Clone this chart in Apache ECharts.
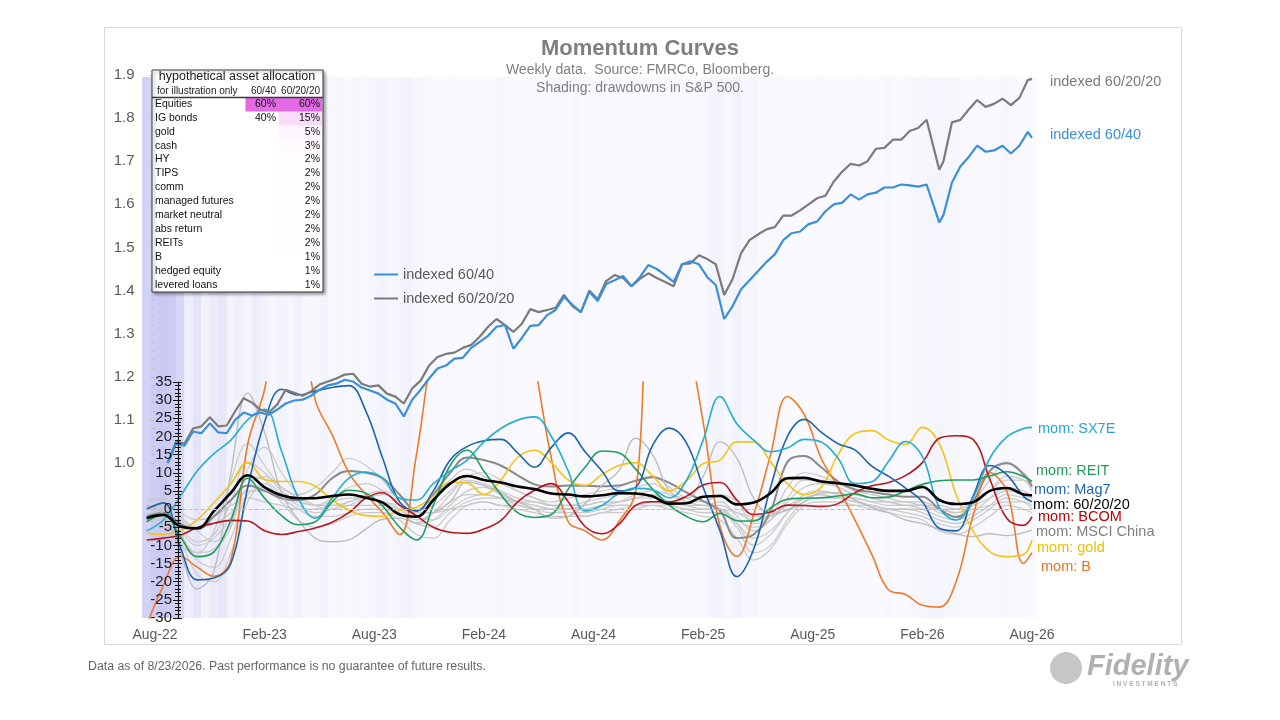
<!DOCTYPE html>
<html lang="en">
<head>
<meta charset="UTF-8">
<title>Momentum Curves</title>
<script src="https://cdn.jsdelivr.net/npm/echarts@6.0.0/dist/echarts.min.js"></script>
<style>
  html, body { margin: 0; padding: 0; background: #fff; }
  #main { width: 1280px; height: 720px; }
</style>
</head>
<body>
<div id="main"></div>
<script>
// x is counted in weeks since 28 Aug 2022 (the Aug-22 tick); last point = 23 Aug 2026
var xTickWeeks = [0, 26, 52, 78, 104, 130, 156, 182, 208];
var xTickLabels = ['Aug-22', 'Feb-23', 'Aug-23', 'Feb-24', 'Aug-24', 'Feb-25', 'Aug-25', 'Feb-26', 'Aug-26'];

// indexed portfolios (left axis)
var idxWeeks = [3,5,7,9,11,13,15,17,19,21, 23,25,27,29,31,33,35,37,39,41, 43,45,47,49,51,53,55,57,59,61,
  63,65,67,69,71,73,75,77,79,81, 83,85,87,89,91,93,95,97,99,101, 103,105,107,109,111,113,115,117,119,121,
  123,125,127,129,131,133,135,137,139,141, 143,145,147,149,151,153,155,157,159,161, 163,165,167,169,171,173,175,177,179,181,
  183,186,187,189,191,193,195,197,199,201,203,205,207,208];
var idx6040 = [1.0,1.045,1.04,1.073,1.069,1.092,1.071,1.069,1.10,1.117,
  1.11,1.117,1.112,1.124,1.138,1.145,1.147,1.156,1.17,1.18,
  1.184,1.193,1.189,1.175,1.168,1.161,1.147,1.138,1.108,1.147,
  1.17,1.196,1.219,1.226,1.242,1.244,1.267,1.281,1.295,1.316,
  1.32,1.265,1.29,1.318,1.32,1.343,1.355,1.385,1.367,1.35,
  1.397,1.376,1.415,1.424,1.434,1.41,1.431,1.459,1.45,1.436,
  1.42,1.461,1.468,1.461,1.431,1.413,1.334,1.364,1.403,1.424,
  1.445,1.466,1.484,1.517,1.533,1.537,1.554,1.56,1.584,1.60,
  1.604,1.623,1.611,1.623,1.627,1.639,1.639,1.646,1.644,1.641,
  1.646,1.558,1.575,1.65,1.688,1.71,1.736,1.722,1.725,1.736,1.718,1.736,1.768,1.754];
var idx602020 = [1.0,1.05,1.045,1.08,1.085,1.106,1.085,1.087,1.12,1.15,
  1.14,1.124,1.117,1.136,1.17,1.163,1.156,1.166,1.182,1.189,
  1.196,1.205,1.207,1.184,1.177,1.18,1.161,1.154,1.138,1.173,
  1.191,1.226,1.246,1.253,1.256,1.267,1.274,1.293,1.316,1.334,
  1.32,1.304,1.323,1.357,1.35,1.355,1.36,1.39,1.364,1.35,
  1.40,1.38,1.422,1.436,1.429,1.41,1.427,1.44,1.429,1.42,
  1.41,1.461,1.463,1.482,1.473,1.461,1.39,1.427,1.487,1.517,
  1.53,1.542,1.547,1.574,1.574,1.586,1.60,1.614,1.62,1.653,
  1.676,1.694,1.69,1.70,1.729,1.731,1.75,1.75,1.77,1.777,
  1.796,1.68,1.70,1.79,1.796,1.82,1.842,1.826,1.833,1.845,1.83,1.847,1.888,1.891];

// momentum readings (inner axis), one value every 4 weeks
var momWeeks = [-2,2,6,10,14,18,22,26,30,34, 38,42,46,50,54,58,62,66,70,74, 78,82,86,90,94,98,102,106,110,114,
  118,122,126,130,134,138,142,146,150,154, 158,162,166,170,174,178,182,186,190,194, 198,202,206,208];
var mom602020 = [-2.5,-1.6,-4.8,-5.3,-0.5,4.5,9.3,6.0,3.8,3.0, 3.0,3.6,4.0,3.1,1.8,-1.5,-2.1,2.5,7.0,9.1,
  8.0,7.3,6.2,5.5,4.3,4.0,3.5,3.8,4.4,4.3, 3.5,1.5,1.6,3.4,3.6,1.3,1.8,4.4,8.5,8.6,
  7.6,7.1,6.5,5.6,5.0,5.0,6.1,2.5,1.4,1.9, 5.0,5.8,4.0,3.8];
var momSX7E = [-6,-3,3.5,10.5,15.3,19,24.6,27.5,16,3, -2.5,3,8.5,10.2,8.5,3,2.5,7,10.5,13.5,
  18.5,22.2,24.5,25.4,20,10.5,-0.5,1,4.3,5.7, 5.3,3.1,7.8,19,31,23.5,19,15.8,16.8,19.2,
  18.5,14,7,7.5,13.2,18.6,14.5,0.5,-3,3, 14,19.8,22.2,22.5];
var momMag7 = [0,1.7,-10.5,-19.5,-19,-15,6,24,33,31.4, 32.5,33.5,34,27,14,2,-0.5,5,13.5,17.2,
  18.8,19.2,15.5,11.5,17,21,15.8,10.5,5,6, 17.5,22.3,18.3,6,-6,-18.6,-11,6,20,24.7,
  21.2,18,16.3,11.8,9,5.8,2,-5.3,-6,3.5, 12,9.5,3.5,2];
var momGold = [-6.7,-7,-6,-3,1.8,7,12.8,8.2,7.6,7.6, 6.3,2.5,-0.3,-1.8,-2,-0.3,0.5,3.5,7.4,7.2,
  4,8,14.2,16.2,12.8,8,6.5,9.5,12,12.8, 9.2,5,7.8,12.5,13.5,18.5,18.5,13,7,4,
  6,15,20.8,21.6,19,17.8,22.5,18,4,-6, -11.7,-13.1,-12.5,-8.5];
var momREIT = [-3.5,-1.5,-7.6,-13.1,-11.8,-3,8.5,3,-1.8,-4.3, -3.5,2,5.2,4.4,0.8,-5,-8.5,1,12,16.2,
  10.5,4,-1,-2.3,-1.5,5.5,11.5,16,15.5,11, 5.5,1,-2,-3.5,-1.2,-3.2,-3.3,0.3,2.7,3,
  3.1,3.6,4.2,3.1,3.3,5,6.8,7.8,8,8, 9.1,10.3,9,7.6];
var momBCOM = [-8.5,-8,-7.2,-5.1,-3.9,-3.1,-3.3,-6,-7,-6.2, -5.2,-3.6,-1,3,4.5,1.1,-1.8,-5,-6.4,-6.7,
  -5.5,-3.2,2,5.2,7,2,-4.8,-6.8,-4.2,1, 2,2,3.5,6.6,7.3,2.5,-1.5,-0.8,1.1,1,
  0.7,1.5,4.5,6.4,7.3,9.2,12.8,19.5,20.2,19.2, 8.2,-2.5,-4.5,-2.1];
var momB = [-32,-21,-13,-16,-18.5,-14,18,33,60,55, 30,20.5,10,4,-1,-7,15,45,60,60,
  60,60,60,40,14,-3.5,-6,-8.5,-3.5,5, 60,60,48,24,-4.8,-13,-1.5,15,31,26,
  14,6,-3,-12.5,-22.3,-23.5,-26.5,-27,-20,-2, 10,5,-15,-12];
var momChina = [1,-1.5,-12,-22,-17,10,32,21,4.5,-3, -8,-9,-8.5,-5.5,-2.8,-2.5,-3.8,-1,2,7.5,
  6.5,4.5,2,0,-2.5,-2,1.5,6.5,10.5,19.5, 15,5,3,9,18.5,14,3,-1.2,-0.3,2,
  4.5,4.5,2.5,0.5,-1,-3,-4,-5.5,-6.8,-7.6, -6.8,-7.3,-6.5,-5.8];
var momDarkGrey = [-2,-1,-4,-5.5,-2,2.5,6.5,5,3,2.5, 4,8.5,10.5,10,8.5,4,-0.5,4,10,14.2,
  13.5,12,9.3,6.8,6.2,6.5,6.4,6.3,6.5,7.8, 8.8,7.2,4.6,2.2,-0.5,-8,-7,-0.5,13,14.6,
  11.5,7.6,5.4,4.7,4,3.4,3.4,0,-2.2,2, 10.5,12.6,9.5,6.2];
var momGrey1 = [0,-2,-8,-12,-6,8,18,12,6,4, 6,10,14,12,8,2,-2,2,8,11, 9,7,5,3,2,3,4,5,6,8, 9,6,3,2,4,2,-4,-2,6,10, 9,7,5,4,3,2,2,0,-1,2, 8,13,10,7];
var momGrey2 = [1,0,-5,-9,-7,2,13,10,5,2, 1,3,6,7,5,1,-3,-1,4,8, 7,5,3,2,1,1,2,3,4,6, 7,4,2,1,2,-2,-6,-3,3,8, 8,6,4,3,2,1,1,-1,-2,1, 5,9,8,5];
var momGrey3 = [2,3,-2,-6,-9,-4,9,8,4,1, -1,0,2,3,2,0,-4,-3,1,5, 6,4,2,1,0,0,1,2,2,3, 4,2,1,0,0,-4,-10,-7,-1,4, 5,4,3,2,1,1,0,-2,-3,-1, 3,6,5,3];
var momGrey4 = [-1,-3,-7,-14,-16,-8,4,6,3,0, -2,-2,-1,0,0,-1,-4,-5,-1,2, 3,3,2,1,0,-1,-1,0,1,1, 2,1,0,-1,-1,-5,-12,-10,-3,2, 3,3,2,1,0,0,-1,-3,-4,-2, 1,4,3,2];
var momGrey5 = [0,1,-3,-5,-4,-1,5,5,3,2, 1,2,3,3,2,1,-1,-1,2,4, 4,3,2,2,1,1,1,2,2,3, 3,2,1,1,1,-1,-3,-2,1,3, 4,3,3,2,2,1,1,0,0,1, 3,5,4,3];
var momGrey6 = [3,2,-1,-3,-2,1,3,2,1,0, 0,1,1,1,1,0,-1,-1,0,1, 2,1,1,0,0,0,0,1,1,1, 1,1,0,0,0,-1,-2,-2,0,1, 1,1,1,1,0,0,0,0,-1,0, 1,2,2,1];
var momGrey7 = [-2,-4,-9,-18,-20,-12,2,7,2,-3, -5,-4,-2,-1,-1,-3,-7,-8,-3,1, 2,1,0,-1,-2,-2,-2,-1,-1,0, 1,0,-1,-2,-3,-8,-14,-11,-4,1, 2,2,1,0,-1,-2,-3,-6,-7,-5, -2,1,0,-1];
var momGrey8 = [1,-1,-6,-10,-8,-2,6,9,6,3, 1,1,2,4,5,3,0,1,5,9, 10,8,5,3,1,0,0,1,2,4, 5,4,2,1,0,-3,-5,-3,2,6, 7,6,4,3,2,2,1,1,0,2, 5,8,8,6];
var momGrey9 = [-3,-5,-10,-12,-11,-5,11,17,10,4, 1,0,1,3,4,2,-2,-3,0,3, 4,3,1,0,-1,-1,-2,-1,0,1, 2,1,0,-1,-1,-4,-8,-6,-1,3, 4,3,2,1,0,-1,-2,-4,-5,-3, 0,3,2,0];

// S&P 500 drawdown depth (%), two-week buckets starting at week -2
var shadeStartWeek = -2, shadeStepWeeks = 2;
var drawdown = [22,24,25,24,20,12,16,9,14,15, 8,11,6,13,9,5,8,6,9,4, 5,7,3,4,2,5,3,6,8,5,
  7,9,4,3,2,1,3,1,1,2, 1,2,4,3,1,1,2,0,1,3, 1,4,2,1,0,1,2,1,3,1,
  1,2,1,0,3,1,2,6,8,5, 9,4,6,2,1,3,1,0,1,2, 3,1,1,2,1,3,1,2,4,1,
  2,5,3,6,7,4,5,2,1,3, 1,2,4,2,1,0];

// allocation table
var tableAssets = ['Equities', 'IG bonds', 'gold', 'cash', 'HY', 'TIPS', 'comm', 'managed futures',
  'market neutral', 'abs return', 'REITs', 'B', 'hedged equity', 'levered loans'];
var alloc6040 = [60, 40, null, null, null, null, null, null, null, null, null, null, null, null];
var alloc602020 = [60, 15, 5, 3, 2, 2, 2, 2, 2, 2, 2, 1, 1, 1];

var FONT = '"Liberation Sans", Arial, sans-serif';

function pairs(xs, ys) {
  return xs.map(function (x, i) { return [x, ys[i]]; });
}

var chart = echarts.init(document.getElementById('main'));

// grids: 0 = indexed, 1 = momentum, 2 = shading behind both
var gl = 146.6, gr = 248;

var series = [];
series.push({
  type: 'bar', xAxisIndex: 2, yAxisIndex: 2, z: 0, silent: true, barWidth: 9,
  data: drawdown.map(function (d, i) { return [shadeStartWeek + i * shadeStepWeeks, 1, d]; })
});

var greys = [momGrey1, momGrey2, momGrey3, momGrey4, momGrey5, momGrey6, momGrey7, momGrey8, momGrey9];
greys.forEach(function (g, i) {
  series.push({
    name: 'grey' + i, type: 'line', xAxisIndex: 1, yAxisIndex: 1, symbol: 'none', smooth: 0.4,
    silent: true, lineStyle: { color: '#c9c9c9', width: 1.2 }, data: pairs(momWeeks, g)
  });
});
series.push({
  name: 'darkgrey', type: 'line', xAxisIndex: 1, yAxisIndex: 1, symbol: 'none', smooth: 0.4,
  silent: true, lineStyle: { color: '#8a8a8a', width: 2 }, data: pairs(momWeeks, momDarkGrey)
});

var momLabelled = [
  { name: 'mom: MSCI China', data: momChina, color: '#bdbdbd', text: '#7f7f7f', dist: 4, dy: 2, w: 1.4 },
  { name: 'mom: B', data: momB, color: '#ee7a28', text: '#e8731e', dist: 9, dy: 14, w: 1.6 },
  { name: 'mom: gold', data: momGold, color: '#f2c419', text: '#f0bf00', dist: 5, dy: 8, w: 1.6 },
  { name: 'mom: BCOM', data: momBCOM, color: '#b8151f', text: '#c00000', dist: 6, dy: 0, w: 1.6 },
  { name: 'mom: REIT', data: momREIT, color: '#1f9e5c', text: '#1e9e58', dist: 4, dy: -10, w: 1.6 },
  { name: 'mom: Mag7', data: momMag7, color: '#1f63ad', text: '#1f65b0', dist: 2, dy: -12, w: 1.6 },
  { name: 'mom: SX7E', data: momSX7E, color: '#22aed1', text: '#22a8cf', dist: 6, dy: 2, w: 1.6 },
  { name: 'mom: 60/20/20', data: mom602020, color: '#000000', text: '#000000', dist: 1, dy: 10, w: 2.6 }
];
momLabelled.forEach(function (m) {
  var s = {
    name: m.name, type: 'line', xAxisIndex: 1, yAxisIndex: 1, symbol: 'none', smooth: 0.4,
    lineStyle: { color: m.color, width: m.w }, itemStyle: { color: m.color },
    data: pairs(momWeeks, m.data),
    endLabel: {
      show: true, formatter: '{a}', color: m.text, fontSize: 14.5, fontFamily: FONT,
      distance: m.dist, offset: [0, m.dy]
    }
  };
  if (m.name === 'mom: 60/20/20') {
    s.markLine = {
      silent: true, symbol: 'none', label: { show: false },
      lineStyle: { type: 'dashed', color: '#bdbdbd', width: 1 },
      data: [{ yAxis: 0 }]
    };
  }
  series.push(s);
});

series.push({
  name: 'indexed 60/20/20', type: 'line', xAxisIndex: 0, yAxisIndex: 0, symbol: 'none',
  lineStyle: { color: '#7b7b7b', width: 2.2 }, itemStyle: { color: '#7b7b7b' },
  data: pairs(idxWeeks, idx602020),
  endLabel: { show: true, formatter: '{a}', color: '#7b7b7b', fontSize: 14.5, fontFamily: FONT, distance: 18, offset: [0, 3] }
});
series.push({
  name: 'indexed 60/40', type: 'line', xAxisIndex: 0, yAxisIndex: 0, symbol: 'none',
  lineStyle: { color: '#3b8fd8', width: 2.2 }, itemStyle: { color: '#3b8fd8' },
  data: pairs(idxWeeks, idx6040),
  endLabel: { show: true, formatter: '{a}', color: '#3b8fd8', fontSize: 14.5, fontFamily: FONT, distance: 18, offset: [0, -3] }
});

// allocation table graphic (every element gets a high z so it sits above the plot)
var TZ = 200;
var tb = { x: 152, y: 70, w: 171, h: 222, rowTop: 104, rowH: 13.9 };
var tableEls = [
  { type: 'rect', z: TZ, shape: { x: tb.x, y: tb.y, width: tb.w, height: tb.h },
    style: { fill: '#fff', stroke: '#3a3a3a', lineWidth: 1, shadowBlur: 3, shadowOffsetX: 2, shadowOffsetY: 2, shadowColor: 'rgba(0,0,0,0.35)' } },
  { type: 'text', z: TZ + 2, x: 237, y: 77, style: { text: 'hypothetical asset allocation', fontSize: 12.5, fontFamily: FONT, fill: '#222', align: 'center', verticalAlign: 'middle' } },
  { type: 'text', z: TZ + 2, x: 157, y: 91, style: { text: 'for illustration only', fontSize: 10, fontFamily: FONT, fill: '#222', verticalAlign: 'middle' } },
  { type: 'text', z: TZ + 2, x: 276, y: 91, style: { text: '60/40', fontSize: 10, fontFamily: FONT, fill: '#222', align: 'right', verticalAlign: 'middle' } },
  { type: 'text', z: TZ + 2, x: 320, y: 91, style: { text: '60/20/20', fontSize: 10, fontFamily: FONT, fill: '#222', align: 'right', verticalAlign: 'middle' } },
  { type: 'line', z: TZ + 2, shape: { x1: tb.x, y1: 97.5, x2: tb.x + tb.w, y2: 97.5 }, style: { stroke: '#3a3a3a', lineWidth: 1.5 } }
];
function colRange(arr) {
  var v = arr.filter(function (a) { return a != null; });
  return [Math.min.apply(null, v), Math.max.apply(null, v)];
}
var r1 = colRange(alloc6040), r2 = colRange(alloc602020);
function shade(v, r) {
  var a = r[1] === r[0] ? 0 : (v - r[0]) / (r[1] - r[0]);
  return 'rgba(228,105,228,' + a.toFixed(3) + ')';
}
tableAssets.forEach(function (name, i) {
  var yc = tb.rowTop + i * tb.rowH;
  if (alloc6040[i] != null) {
    tableEls.push({ type: 'rect', z: TZ + 1, shape: { x: 245.5, y: yc - 6.5, width: 33.5, height: tb.rowH }, style: { fill: shade(alloc6040[i], r1) } });
    tableEls.push({ type: 'text', z: TZ + 2, x: 276, y: yc, style: { text: alloc6040[i] + '%', fontSize: 10.5, fontFamily: FONT, fill: '#111', align: 'right', verticalAlign: 'middle' } });
  }
  tableEls.push({ type: 'rect', z: TZ + 1, shape: { x: 279, y: yc - 6.5, width: 43, height: tb.rowH }, style: { fill: shade(alloc602020[i], r2) } });
  tableEls.push({ type: 'text', z: TZ + 2, x: 320, y: yc, style: { text: alloc602020[i] + '%', fontSize: 10.5, fontFamily: FONT, fill: '#111', align: 'right', verticalAlign: 'middle' } });
  tableEls.push({ type: 'text', z: TZ + 2, x: 155, y: yc, style: { text: name, fontSize: 10.5, fontFamily: FONT, fill: '#111', verticalAlign: 'middle' } });
});

var momAxisBase = { gridIndex: 1, type: 'value', min: -30, max: 35, interval: 5, position: 'left', offset: -31.4, z: 50,
  splitLine: { show: false } };

var option = {
  backgroundColor: '#ffffff',
  animation: false,
  title: {
    text: 'Momentum Curves',
    subtext: 'Weekly data.  Source: FMRCo, Bloomberg.\nShading: drawdowns in S&P 500.',
    left: 'center', top: 33, itemGap: 1,
    textStyle: { fontSize: 22, fontWeight: 'bold', color: '#7f7f7f', fontFamily: FONT },
    subtextStyle: { fontSize: 14, color: '#7f7f7f', lineHeight: 18, fontFamily: FONT }
  },
  legend: {
    data: ['indexed 60/40', 'indexed 60/20/20'],
    left: 369, top: 262, orient: 'vertical', icon: 'rect', itemWidth: 24, itemHeight: 2, itemGap: 9,
    textStyle: { color: '#595959', fontSize: 14.5, fontFamily: FONT }
  },
  visualMap: {
    show: false, type: 'continuous', seriesIndex: 0, dimension: 2, min: 0, max: 25,
    inRange: { color: ['#fafafe', '#efeffb', '#c9c9f3'] }
  },
  grid: [
    { left: gl, right: gr, top: 75, height: 388, outerBoundsMode: 'none' },
    { left: gl, right: gr, top: 382, height: 236, outerBoundsMode: 'none' },
    { left: gl, right: gr, top: 77, height: 541, outerBoundsMode: 'none' }
  ],
  xAxis: [
    { gridIndex: 0, type: 'value', min: -2, max: 208, show: false },
    { gridIndex: 1, type: 'value', min: -2, max: 208,
      axisLine: { show: false }, axisTick: { show: false }, splitLine: { show: false },
      axisLabel: {
        customValues: xTickWeeks, margin: 10, color: '#595959', fontSize: 14, fontFamily: FONT,
        formatter: function (v) { var k = xTickWeeks.indexOf(Math.round(v)); return k >= 0 ? xTickLabels[k] : ''; }
      } },
    { gridIndex: 2, type: 'value', min: -2, max: 208, show: false }
  ],
  yAxis: [
    { gridIndex: 0, type: 'value', min: 1.0, max: 1.9, interval: 0.1, position: 'left', offset: 3,
      axisLine: { show: true, lineStyle: { color: '#bfbfbf' } },
      axisTick: { show: true, length: 5, lineStyle: { color: '#bfbfbf' } },
      minorTick: { show: true, splitNumber: 5, length: 3, lineStyle: { color: '#bfbfbf' } },
      splitLine: { show: false },
      axisLabel: { margin: 9, color: '#595959', fontSize: 15, fontFamily: FONT, formatter: function (v) { return v.toFixed(1); } } },
    Object.assign({}, momAxisBase, {
      axisLine: { show: true, lineStyle: { color: '#111', width: 1.2 } },
      axisTick: { show: true, length: 5, lineStyle: { color: '#111' } },
      minorTick: { show: true, splitNumber: 5, length: 3, lineStyle: { color: '#111' } },
      axisLabel: { margin: 6, color: '#1a1a1a', fontSize: 15, fontFamily: FONT } }),
    { gridIndex: 2, type: 'value', min: 0, max: 1, show: false },
    // same momentum scale again, only to draw the tick marks on the inner side of the axis line
    Object.assign({}, momAxisBase, {
      axisLine: { show: false },
      axisTick: { show: true, inside: true, length: 4, lineStyle: { color: '#111' } },
      minorTick: { show: true, splitNumber: 5, length: 3, lineStyle: { color: '#111' } },
      axisLabel: { show: false } })
  ],
  graphic: [
    { type: 'rect', z: -10, silent: true, shape: { x: 104.5, y: 27.5, width: 1077, height: 617 },
      style: { fill: 'none', stroke: '#d9d9d9', lineWidth: 1 } },
    { type: 'group', children: tableEls },
    { type: 'text', x: 88, y: 667, style: { text: 'Data as of 8/23/2026. Past performance is no guarantee of future results.',
      fontSize: 12.3, fontFamily: FONT, fill: '#666', verticalAlign: 'middle' } },
    { type: 'circle', shape: { cx: 1066, cy: 668, r: 16 }, style: { fill: '#c6c6c6' } },
    { type: 'text', x: 1087, y: 667, style: { text: 'Fidelity', fontSize: 29, fontWeight: 'bold', fontStyle: 'italic',
      fontFamily: FONT, fill: '#b0b0b0', verticalAlign: 'middle' } },
    { type: 'text', x: 1113, y: 684, style: { text: 'I N V E S T M E N T S', fontSize: 6.5, fontWeight: 'bold',
      fontFamily: FONT, fill: '#b0b0b0', verticalAlign: 'middle' } }
  ],
  series: series
};
chart.setOption(option);
</script>
</body>
</html>
